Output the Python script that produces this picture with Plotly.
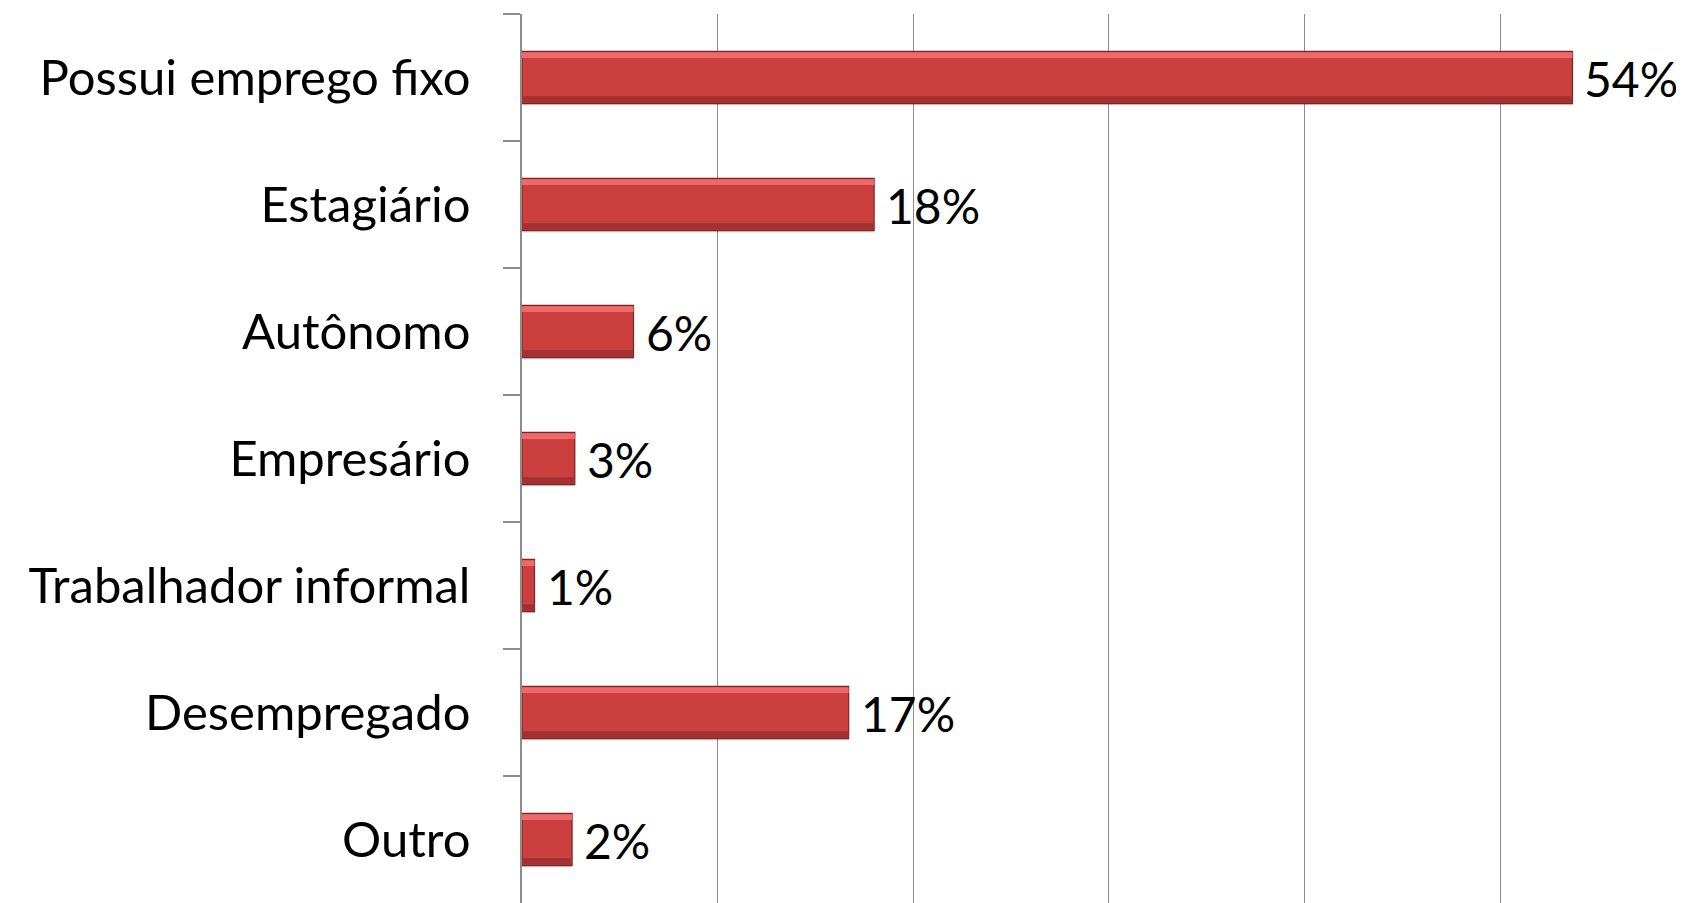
import plotly.graph_objects as go

categories = ["Possui emprego fixo", "Estagiário", "Autônomo", "Empresário",
              "Trabalhador informal", "Desempregado", "Outro"]
values = [0.537, 0.180, 0.057, 0.027, 0.0064, 0.167, 0.0256]
labels = ["54%", "18%", "6%", "3%", "1%", "17%", "2%"]

FONT = "Lato"
FS = 49
FS_NUM = 48
fig = go.Figure()

# drop shadow
fig.add_trace(go.Bar(y=categories, x=values, orientation="h",
                     width=0.41, offset=-0.19,
                     marker=dict(color="rgba(0,0,0,0.10)", line=dict(width=0)),
                     hoverinfo="skip", showlegend=False))
# main bar
fig.add_trace(go.Bar(y=categories, x=values, orientation="h",
                     width=0.41, offset=-0.205,
                     marker=dict(color="#CB3F3F", line=dict(color="#7E2424", width=1.2)),
                     showlegend=False))
# top highlight
fig.add_trace(go.Bar(y=categories, x=values, orientation="h",
                     width=0.045, offset=-0.198,
                     marker=dict(color="#EE6A6A", line=dict(width=0)),
                     hoverinfo="skip", showlegend=False))
# bottom darker band
fig.add_trace(go.Bar(y=categories, x=values, orientation="h",
                     width=0.05, offset=0.148,
                     marker=dict(color="#A33131", line=dict(width=0)),
                     hoverinfo="skip", showlegend=False))

for c, v, t in zip(categories, values, labels):
    fig.add_annotation(x=v, y=c, text=t, showarrow=False, xanchor="left",
                       xshift=10, yshift=-1,
                       font=dict(family=FONT, size=FS_NUM, color="#000000"))

fig.update_layout(
    width=1676, height=895,
    margin=dict(l=514, r=0, t=6, b=0),
    paper_bgcolor="white", plot_bgcolor="white",
    barmode="overlay", bargap=0.59,
    xaxis=dict(range=[0, 0.594], dtick=0.1, showticklabels=False,
               showgrid=True, gridcolor="#8C8C8C", gridwidth=1.2,
               zeroline=False, showline=False, ticks=""),
    yaxis=dict(type="category", categoryorder="array", categoryarray=categories,
               range=[6.5, -0.5], showline=True, linecolor="#8C8C8C", linewidth=1.5,
               ticks="outside", tickson="boundaries", ticklen=17, tickcolor="#8C8C8C",
               tickwidth=1.5, ticklabelstandoff=40, showgrid=False,
               tickfont=dict(family=FONT, size=FS, color="#000000")),
)

fig.write_html("out.html")
